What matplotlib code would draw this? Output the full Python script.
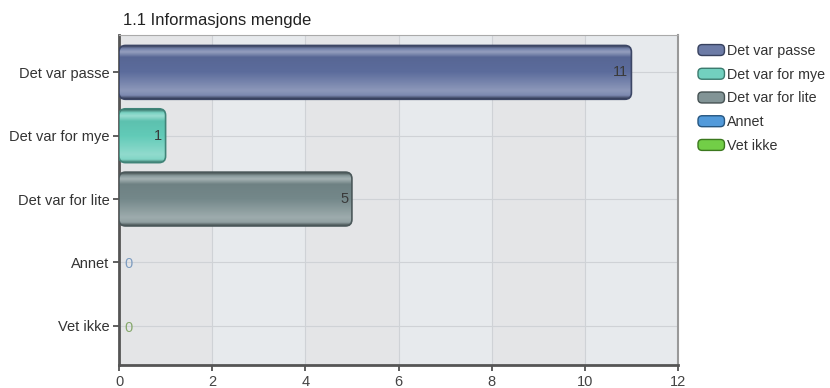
import numpy as np
import matplotlib
matplotlib.use("Agg")
import matplotlib.pyplot as plt
from matplotlib.patches import FancyBboxPatch, Patch
from matplotlib.legend_handler import HandlerPatch
from matplotlib.colors import LinearSegmentedColormap, to_rgb

title = "1.1 Informasjons mengde"
categories = ["Det var passe", "Det var for mye", "Det var for lite", "Annet", "Vet ikke"]
values = [11, 1, 5, 0, 0]
colors = ["#5c6c9c", "#62cbb8", "#74888a", "#3f8fd6", "#62c832"]
zero_label_colors = ["#5c6c9c", "#62cbb8", "#74888a", "#7d9cc0", "#86a86c"]
xticks = [0, 2, 4, 6, 8, 10, 12]

plt.rcParams["font.family"] = ["Liberation Sans", "DejaVu Sans"]

fig = plt.figure(figsize=(8.3, 3.88), dpi=100)
ax = fig.add_axes([119 / 830, 1 - 365 / 388, 559 / 830, 330 / 388])

ypos = np.arange(len(categories))
ax.set_xlim(0, 12)
ax.set_ylim(len(categories) - 1 + 0.62, -0.59)

# alternating column bands
ax.set_facecolor("#e7eaed")
for i, x0 in enumerate(xticks[:-1]):
    if i % 2 == 0:
        ax.axvspan(x0, x0 + 2, color="#e4e5e7", zorder=0, lw=0)
ax.grid(True, color="#cfd2d6", lw=0.8, zorder=1)
ax.set_axisbelow(True)


def shade(c, f):
    r = np.array(to_rgb(c))
    if f >= 0:
        return tuple(r + (1 - r) * f)
    return tuple(r * (1 + f))


def gradient_cmap(c):
    return LinearSegmentedColormap.from_list("g", [
        (0.0, shade(c, -0.45)),
        (0.06, shade(c, 0.15)),
        (0.12, shade(c, 0.35)),
        (0.22, shade(c, -0.05)),
        (0.5, shade(c, 0.0)),
        (0.85, shade(c, 0.3)),
        (0.94, shade(c, 0.2)),
        (1.0, shade(c, -0.45)),
    ])


bar_h = 0.85
x_per_px = 12 / 559
y_per_px = (len(categories) - 1 + 0.62 + 0.59) / 330
aspect = y_per_px / x_per_px

for y, v, c in zip(ypos, values, colors):
    if v <= 0:
        continue
    patch = FancyBboxPatch((0, y - bar_h / 2), v, bar_h,
                           boxstyle="round,pad=0,rounding_size=0.14",
                           mutation_aspect=aspect, fc="none",
                           ec=shade(c, -0.35), lw=1.2, zorder=4)
    ax.add_patch(patch)
    grad = np.linspace(0, 1, 64).reshape(-1, 1)
    im = ax.imshow(grad, cmap=gradient_cmap(c), aspect="auto",
                   extent=(0, v, y + bar_h / 2, y - bar_h / 2),
                   zorder=3, interpolation="bilinear")
    im.set_clip_path(patch)
    ax.text(v - 0.08, y, str(v), ha="right", va="center",
            fontsize=10.5, color="#3a3a3a", zorder=5)

for y, v, lc in zip(ypos, values, zero_label_colors):
    if v == 0:
        ax.text(0.12, y + 0.03, "0", ha="left", va="center",
                fontsize=10.5, color=lc, zorder=5)

ax.set_xlim(0, 12)
ax.set_ylim(len(categories) - 1 + 0.62, -0.59)
ax.set_yticks(ypos)
ax.set_yticklabels(categories, fontsize=10.5, color="#333333")
ax.set_xticks(xticks)
ax.set_xticklabels([str(t) for t in xticks], fontsize=10.5, color="#444444")
ax.tick_params(axis="both", direction="out", length=4, width=1.2,
               color="#444444", pad=3)

for s in ["left", "bottom"]:
    ax.spines[s].set_color("#555555")
    ax.spines[s].set_linewidth(2)
ax.spines["right"].set_color("#999999")
ax.spines["right"].set_linewidth(1.5)
ax.spines["top"].set_color("#aaaaaa")
ax.spines["top"].set_linewidth(0.8)

fig.text(123 / 830, 1 - 20 / 388, title, fontsize=12, color="#222222",
         ha="left", va="center")


class RoundedHandler(HandlerPatch):
    def create_artists(self, legend, orig_handle, xdescent, ydescent,
                       width, height, fontsize, trans):
        fc = orig_handle.get_facecolor()
        ec = orig_handle.get_edgecolor()
        p = FancyBboxPatch((-xdescent, -ydescent), width, height,
                           boxstyle="round,pad=0,rounding_size=3",
                           fc=fc, ec=ec, lw=1.0, transform=trans)
        return [p]


handles = [Patch(facecolor=shade(c, 0.1), edgecolor=shade(c, -0.4))
           for c in colors]
fig.legend(handles, categories, loc="upper left",
           bbox_to_anchor=(698 / 830, 1 - 44 / 388), frameon=False,
           fontsize=10.3, handlelength=1.85, handleheight=0.8,
           handletextpad=0.15, labelspacing=0.68, borderaxespad=0,
           borderpad=0, labelcolor="#333333",
           handler_map={Patch: RoundedHandler()})

fig.savefig("out.png", dpi=100)
